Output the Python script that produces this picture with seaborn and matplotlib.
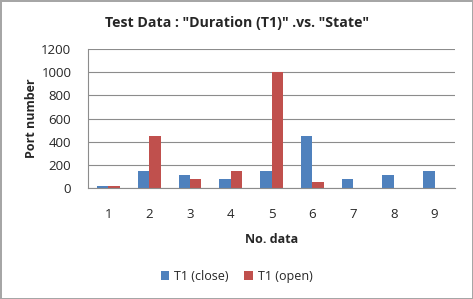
import pandas as pd
import seaborn as sns
import matplotlib.pyplot as plt

# values
nums = ["1", "2", "3", "4", "5", "6", "7", "8", "9"]
t1_close = [20, 150, 110, 80, 150, 450, 80, 110, 150]
t1_open = [20, 450, 80, 150, 1000, 55, 0, 0, 0]

df = pd.DataFrame({
    "No. data": nums * 2,
    "value": t1_close + t1_open,
    "series": ["T1 (close)"] * len(nums) + ["T1 (open)"] * len(nums),
})

sns.set_style("white")
plt.rcParams["font.family"] = ["Open Sans", "DejaVu Sans"]

fig = plt.figure(figsize=(4.73, 2.99), dpi=100, edgecolor="#a6a6a6", linewidth=2)
ax = fig.add_axes([0.186, 0.371, 0.776, 0.465])

sns.barplot(data=df, x="No. data", y="value", hue="series",
            palette=["#4F81BD", "#C0504D"], width=0.56, gap=0,
            saturation=1, linewidth=0, ax=ax)

ax.set_ylim(0, 1200)
ax.set_yticks(range(0, 1201, 200))
ax.yaxis.grid(True, color="#8c8c8c", linewidth=0.8)
ax.set_axisbelow(True)
for s in ["top", "right"]:
    ax.spines[s].set_visible(False)
for s in ["left", "bottom"]:
    ax.spines[s].set_color("#8c8c8c")
    ax.spines[s].set_linewidth(0.8)
ax.tick_params(axis="y", labelsize=9.5, length=0, pad=12)
ax.tick_params(axis="x", labelsize=9.5, length=0, pad=14)

ax.set_xlabel("No. data", fontsize=9, fontweight="bold", labelpad=9)
ax.set_ylabel("Port number", fontsize=9, fontweight="bold", labelpad=2)

fig.suptitle('Test Data : "Duration (T1)" .vs. "State"', fontsize=10.2,
             fontweight="bold", y=0.947)

handles, labels = ax.get_legend_handles_labels()
ax.legend_.remove()
fig.legend(handles, labels, loc="center", bbox_to_anchor=(0.5, 0.075), ncol=2,
           frameon=False, fontsize=9, handlelength=0.7, handleheight=0.7,
           columnspacing=1.2, handletextpad=0.4)

fig.savefig("out.png", dpi=100)
